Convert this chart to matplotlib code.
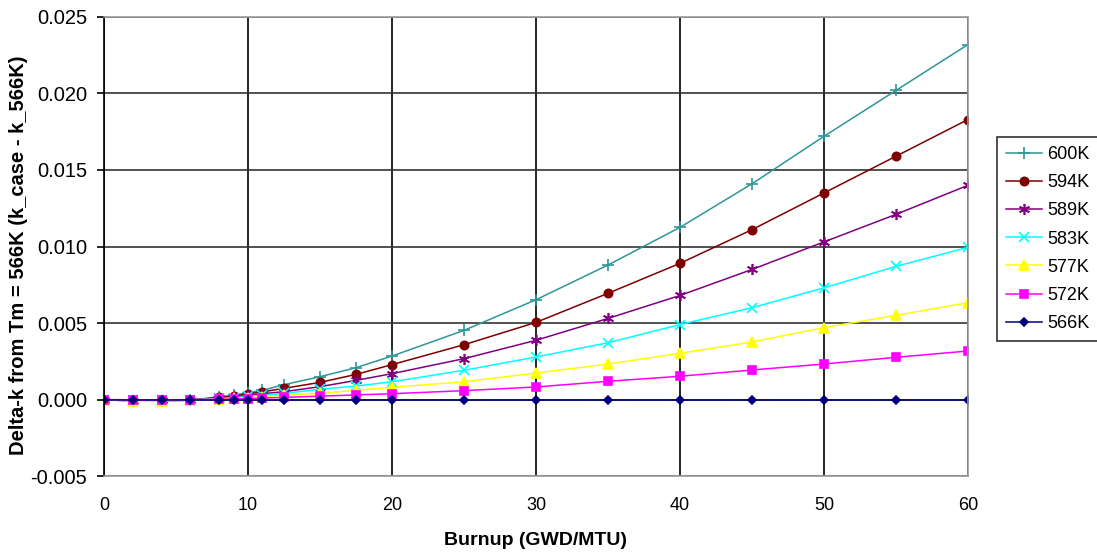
import matplotlib.pyplot as plt
import numpy as np

plt.rcParams['font.family'] = ['Liberation Sans', 'DejaVu Sans']

burnup = [0, 2, 4, 6, 8, 9, 10, 11, 12.5, 15, 17.5, 20, 25, 30, 35, 40, 45, 50, 55, 60]

k600 = [0, -0.00012, -0.0001, -0.00005, 0.00018, 0.00028, 0.00045, 0.0006, 0.00097, 0.00149,
        0.00208, 0.00284, 0.00452, 0.00652, 0.00879, 0.01125, 0.0141, 0.0172, 0.0202, 0.0232]
k594 = [0, -0.0001, -0.00008, -0.00004, 0.00014, 0.00022, 0.00038, 0.0005, 0.00073, 0.00112,
        0.00164, 0.00228, 0.00358, 0.00504, 0.00694, 0.0089, 0.0111, 0.0135, 0.0159, 0.0183]
k589 = [0, -0.00008, -0.00006, -0.00003, 0.0001, 0.00016, 0.00028, 0.00038, 0.00051, 0.00084,
        0.00125, 0.00169, 0.00267, 0.00387, 0.0053, 0.0068, 0.0085, 0.0103, 0.0121, 0.0140]
k583 = [0, -0.00006, -0.00005, -0.00002, 0.00007, 0.00011, 0.0002, 0.00028, 0.0004, 0.00067,
        0.00088, 0.00116, 0.00191, 0.00278, 0.00371, 0.0049, 0.0060, 0.0073, 0.0087, 0.00995]
k577 = [0, -0.00012, -0.0001, -0.00004, 0.00004, 0.00007, 0.00013, 0.00018, 0.00029, 0.0004,
        0.0006, 0.0008, 0.00116, 0.00173, 0.00232, 0.00302, 0.00376, 0.0047, 0.0055, 0.00633]
k572 = [0, -0.00002, -0.00002, -0.00001, 0.00002, 0.00003, 0.00006, 0.00009, 0.00014, 0.00022,
        0.0003, 0.00038, 0.00058, 0.00082, 0.00119, 0.00152, 0.00193, 0.00232, 0.00276, 0.00317]
k566 = [0] * len(burnup)

labels = ['600K', '594K', '589K', '583K', '577K', '572K', '566K']
series = [k600, k594, k589, k583, k577, k572, k566]
colors = ['#2E9696', '#800000', '#800080', '#00FFFF', '#FFFF00', '#FF00FF', '#000080']
markers = ['+', 'o', (6, 2, 0), 'x', '^', 's', 'D']
msizes = [8, 6, 8, 7, 6.5, 6, 4.5]

fig = plt.figure(figsize=(10.97, 5.55), dpi=100)
ax = fig.add_axes([0.0948, 0.1423, 0.7876, 0.8271])

for y, lab, c, m, ms in zip(series, labels, colors, markers, msizes):
    ax.plot(burnup, y, color=c, marker=m, markersize=ms, linewidth=1.1,
            markeredgewidth=1.2, label=lab)

ax.set_xlim(0, 60)
ax.set_ylim(-0.005, 0.025)
ax.set_xticks(np.arange(0, 61, 10))
ax.set_yticks(np.arange(-0.005, 0.0251, 0.005))
ax.set_yticklabels(['%.3f' % v for v in np.arange(-0.005, 0.0251, 0.005)])

# grid: vertical black, horizontal dark gray
ax.xaxis.grid(True, color='black', linewidth=1.2)
ax.yaxis.grid(True, color='#333333', linewidth=1.2)
ax.set_axisbelow(True)

for s in ['top', 'right', 'bottom']:
    ax.spines[s].set_color('#9a9a9a')
    ax.spines[s].set_linewidth(1.2)
ax.spines['left'].set_color('black')
ax.spines['left'].set_linewidth(1.2)

ax.tick_params(axis='x', length=0, pad=15, labelsize=13)
ax.tick_params(axis='y', direction='out', length=5, width=1.2, pad=7, labelsize=14.5)

ax.set_xlabel('Burnup (GWD/MTU)', fontsize=14, fontweight='bold')
ax.xaxis.set_label_coords(0.5, -0.122)
ax.set_ylabel('Delta-k from Tm = 566K (k_case - k_566K)', fontsize=14.5,
              fontweight='bold')
ax.yaxis.set_label_coords(-0.088, 0.48)

leg = fig.legend(loc='upper left', bbox_to_anchor=(997 / 1097, (555 - 137) / 555),
                 fontsize=13, frameon=True, fancybox=False, edgecolor='black',
                 handlelength=2.0, labelspacing=0.62, borderpad=0.5,
                 handletextpad=0.3, borderaxespad=0)
leg.get_frame().set_linewidth(1.2)

fig.savefig('out.png', dpi=100)
